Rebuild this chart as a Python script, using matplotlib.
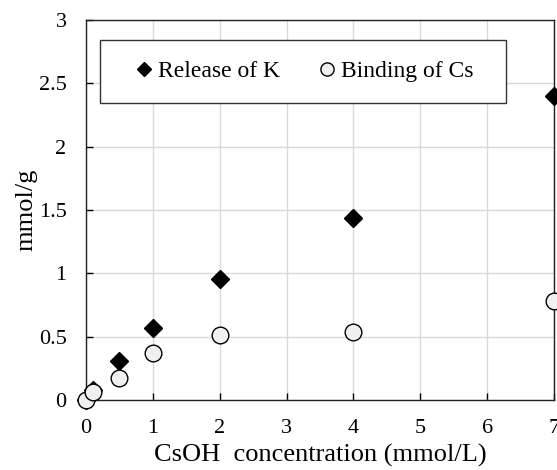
import matplotlib
matplotlib.use("Agg")
import matplotlib.pyplot as plt
from matplotlib.lines import Line2D
from matplotlib.patches import Rectangle

# CsOH concentration (mmol/L)
conc = [0, 0.1, 0.5, 1, 2, 4, 7]
release_k = [0.0, 0.08, 0.31, 0.57, 0.955, 1.44, 2.40]
binding_cs = [0.0, 0.06, 0.17, 0.37, 0.51, 0.54, 0.78]

x_ticks = [0, 1, 2, 3, 4, 5, 6, 7]
y_ticks = [0, 0.5, 1, 1.5, 2, 2.5, 3]
y_tick_labels = ["0", "0.5", "1", "1.5", "2", "2.5", "3"]

plt.rcParams["font.family"] = ["Liberation Serif", "DejaVu Serif"]

fig = plt.figure(figsize=(5.57, 4.70), dpi=100)
ax = fig.add_axes([86 / 557, 70 / 470, 468 / 557, 380 / 470])

ax.plot(conc, release_k, linestyle="none", marker="D", markersize=9,
        color="black", clip_on=False, zorder=4)
ax.plot(conc, binding_cs, linestyle="none", marker="o", markersize=12,
        markerfacecolor="#f0f0f0", markeredgecolor="black", markeredgewidth=1,
        clip_on=False, zorder=5)

ax.set_xlim(0, 7)
ax.set_ylim(0, 3)
ax.set_xticks(x_ticks)
ax.set_yticks(y_ticks)
ax.set_yticklabels(y_tick_labels)
ax.grid(True, color="#d9d9d9", linewidth=1)
ax.set_axisbelow(True)
ax.tick_params(direction="in", length=5, width=1, labelsize=16, pad=14)
ax.tick_params(axis="y", pad=14)
for s in ax.spines.values():
    s.set_linewidth(1)
    s.set_color("#222222")

ax.set_xlabel("CsOH  concentration (mmol/L)", fontsize=19, labelpad=4)
ax.set_ylabel("mmol/g", fontsize=19, labelpad=1)

# legend frame
ax.add_patch(Rectangle((0.030, 0.782), 0.868, 0.165, transform=ax.transAxes,
                       facecolor="white", edgecolor="#333333", linewidth=1, zorder=6))
handles = [
    Line2D([], [], linestyle="none", marker="D", markersize=7, color="black"),
    Line2D([], [], linestyle="none", marker="o", markersize=9.5,
           markerfacecolor="#f0f0f0", markeredgecolor="black", markeredgewidth=1),
]
leg = ax.legend(handles, ["Release of K", "Binding of Cs"], loc="center",
                bbox_to_anchor=(0.468, 0.8645), ncol=2, frameon=False,
                fontsize=17, handlelength=0.6, handletextpad=0.3,
                columnspacing=1.7)
leg.set_zorder(7)

fig.savefig("out.png", dpi=100)
